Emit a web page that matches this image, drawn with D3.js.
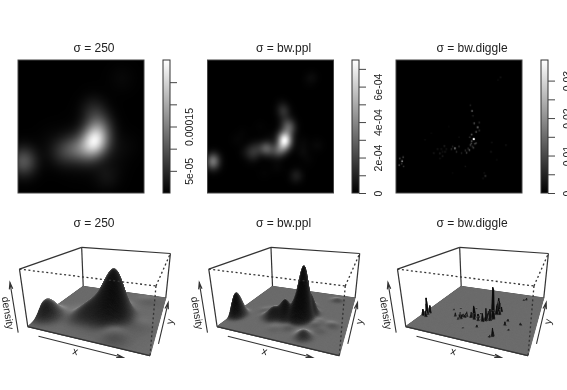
<!DOCTYPE html>
<meta charset="utf-8" />
<title>Kernel density, three bandwidths</title>
<style>
  html, body { margin: 0; background: #fff; }
  canvas, svg { position: absolute; left: 0; top: 0; }
  canvas { filter: blur(0.4px); }
  svg { filter: blur(0.25px); }
  text { font-family: "Liberation Sans", Arial, sans-serif; fill: #222; }
</style>
<body>
<canvas width="567" height="390"></canvas>
<svg width="567" height="390"></svg>
<script src="https://d3js.org/d3.v7.min.js"></script>
<script>
const width = 567, height = 390;

// panel titles and kernel bandwidths, window units
const titles = ["σ = 250", "σ = bw.ppl", "σ = bw.diggle"];
const sigmas = [0.072, 0.036, 0.0045];

// top of the density surface and colour ribbon range
const peakValues = [2.9e-4, 7.4e-4, 0.035];
const ribbonMax = [3.0e-4, 7.5e-4, 0.0355];
const boxTop = [3.15e-4, 7.6e-4, 0.06];

// ribbon ticks, labels only where the reference has them
const ribbonTicks = [
  [5e-5, 1e-4, 1.5e-4, 2e-4, 2.5e-4],
  [0, 1e-4, 2e-4, 3e-4, 4e-4, 5e-4, 6e-4, 7e-4],
  [0, 0.005, 0.01, 0.015, 0.02, 0.025, 0.03]
];
const ribbonLabels = [
  ["5e-05", "", "0.00015", "", ""],
  ["0", "", "2e-04", "", "4e-04", "", "6e-04", ""],
  ["0", "", "0.01", "", "0.02", "", "0.03"]
];

// events: u, v, weight
const events = [
  [.617,.406,9],[.60,.39,2],[.625,.37,1.5],[.59,.36,1.5],[.597,.372,1.5],[.614,.34,1.5],[.606,.35,1],
  [.582,.323,2],[.572,.335,1],[.56,.303,1.5],[.55,.32,1],[.635,.375,1.5],[.60,.44,2],[.585,.42,1],
  [.648,.494,3],[.62,.524,2],[.66,.53,1],[.635,.46,2],[.66,.47,1],
  [.603,.617,2.5],[.59,.66,.7],[.61,.58,.7],
  [.468,.336,3.5],[.44,.33,1],[.45,.35,.7],[.50,.35,1],[.48,.31,1],[.52,.30,.7],
  [.384,.353,.8],[.349,.298,.8],[.37,.278,.7],[.36,.33,.5],[.33,.33,.6],[.30,.30,.6],
  [.39,.31,.6],[.35,.26,.4],[.40,.33,.5],[.37,.31,.4],
  [.048,.24,3.5],[.056,.27,1.5],[.03,.26,1.5],[.06,.20,1],[.025,.21,1.5],[.045,.22,1],
  [.709,.128,1.3],[.69,.11,.4],[.70,.15,.4],
  [.873,.36,.5],[.754,.31,.6],[.80,.25,.3],[.76,.38,.4],
  [.83,.87,.5],[.81,.85,.3],
  [.23,.4,.3],[.28,.45,.2],[.45,.15,.2],[.55,.2,.4],[.42,.5,.2],[.5,.42,.3]
];

const imageLeft = [18, 207.5, 396];
const ribbonLeft = [163, 352, 541];
const perspShift = [0, 189.3, 378];
const gridSize = 128;

// camera, fitted to the box corners of the first surface
const view = { theta: 0.3656, phi: 0.3487, dist: 3.763, zs: 0.4745 };

const ctx = d3.select("canvas").node().getContext("2d");
const svg = d3.select("svg");

// kernel estimate on the grid, scaled so the top matches the panel
function density(sigma, peak) {
  const grid = new Float64Array(gridSize * gridSize);
  let top = 0;
  for (let j = 0; j < gridSize; j++) {
    for (let i = 0; i < gridSize; i++) {
      const u = (i + 0.5) / gridSize, v = (j + 0.5) / gridSize;
      let s = 0;
      events.forEach(e => {
        const d2 = (u - e[0]) ** 2 + (v - e[1]) ** 2;
        s += e[2] * Math.exp(-d2 / (2 * sigma * sigma));
      });
      grid[j * gridSize + i] = s;
      top = Math.max(top, s);
    }
  }
  return grid.map(d => d / top * peak);
}

function project(u, v, w) {
  const ct = Math.cos(view.theta), st = Math.sin(view.theta);
  const cf = Math.cos(view.phi), sf = Math.sin(view.phi);
  const x = 2 * u - 1, y = 2 * v - 1, z = (2 * w - 1) * view.zs;
  const xr = x * ct + y * st, dv = x * st - y * ct;
  const yv = z * cf - dv * sf, zv = z * sf + dv * cf;
  const k = 1 / (view.dist - zv);
  return [xr * k, yv * k];
}

// light comes from behind and above the box
const light = [-Math.sin(view.theta) * 0.75, Math.cos(view.theta) * 0.75, 0.3];

titles.forEach((title, k) => {
  const grid = density(sigmas[k], peakValues[k]);

  // image panel
  const ix = d3.scaleLinear().domain([0, 1]).range([imageLeft[k], imageLeft[k] + 126]);
  const iy = d3.scaleLinear().domain([0, 1]).range([193, 60]);
  const grey = d3.scaleLinear().domain([0, ribbonMax[k]]).range([0, 255]).clamp(true);
  const off = document.createElement("canvas");
  off.width = off.height = gridSize;
  const octx = off.getContext("2d");
  const img = octx.createImageData(gridSize, gridSize);
  for (let j = 0; j < gridSize; j++) {
    for (let i = 0; i < gridSize; i++) {
      const g = grey(grid[j * gridSize + i]);
      const o = ((gridSize - 1 - j) * gridSize + i) * 4;
      img.data[o] = img.data[o + 1] = img.data[o + 2] = g;
      img.data[o + 3] = 255;
    }
  }
  octx.putImageData(img, 0, 0);
  ctx.drawImage(off, ix(0), iy(1), 126, 133);
  svg.append("rect").attr("x", ix(0)).attr("y", iy(1)).attr("width", 126).attr("height", 133)
    .attr("fill", "none").attr("stroke", "#444");

  // ribbon
  const rs = d3.scaleLinear().domain([0, ribbonMax[k]]).range([193, 60]);
  const gradId = "rib" + k;
  const grad = svg.append("linearGradient").attr("id", gradId)
    .attr("x1", 0).attr("x2", 0).attr("y1", 1).attr("y2", 0);
  grad.append("stop").attr("offset", 0).attr("stop-color", "#000");
  grad.append("stop").attr("offset", 1).attr("stop-color", "#fff");
  svg.append("rect").attr("x", ribbonLeft[k]).attr("y", 60).attr("width", 7).attr("height", 133)
    .attr("fill", `url(#${gradId})`).attr("stroke", "#333");
  const axis = d3.axisRight(rs).tickValues(ribbonTicks[k]).tickSizeOuter(0).tickSize(7)
    .tickFormat((d, i) => ribbonLabels[k][i]);
  const ag = svg.append("g").attr("transform", `translate(${ribbonLeft[k] + 7},0)`).call(axis);
  ag.select(".domain").remove();
  ag.selectAll("line").attr("stroke", "#444");
  ag.selectAll("text").attr("font-size", 10.5).attr("fill", "#222").attr("font-family", "Liberation Sans")
    .attr("x", 0).attr("dy", 0).attr("text-anchor", "middle")
    .attr("transform", "translate(19,0) rotate(-90) translate(0,4)");

  svg.append("text").attr("x", ix(0) + 76).attr("y", 51.5).attr("text-anchor", "middle")
    .attr("font-size", 12).text(title);
  svg.append("text").attr("x", ix(0) + 76).attr("y", 226.5).attr("text-anchor", "middle")
    .attr("font-size", 12).text(title);

  // perspective panel
  const sx = d3.scaleLinear().domain([0, 1]).range([106.29 + perspShift[k], 311.96 + perspShift[k]]);
  const sy = d3.scaleLinear().domain([0, 1]).range([286.37, 74.49]);
  const pt = (u, v, w) => { const q = project(u, v, w); return [sx(q[0]), sy(q[1])]; };
  const line = d3.line().context(ctx);
  function edge(a, b, dash, w) {
    ctx.beginPath();
    line([pt(...a), pt(...b)]);
    ctx.setLineDash(dash);
    ctx.strokeStyle = "#333";
    ctx.lineWidth = w || 1.2;
    ctx.stroke();
    ctx.setLineDash([]);
  }
  // back of the box goes under the surface
  edge([0,0,1],[0,1,1],[]); edge([0,1,1],[1,1,1],[]);
  edge([0,1,0],[0,1,1],[]); edge([0,0,0],[0,0,1],[]); edge([1,1,0],[1,1,1],[]);
  edge([0,0,0],[0,1,0],[]); edge([0,1,0],[1,1,0],[]);
  edge([0,0,0],[1,0,0],[]);

  // surface, far cells first
  const n = gridSize;
  const at = (i, j) => grid[j * n + i] / boxTop[k];
  const flatShade = 1 + light[2];
  for (let j = n - 2; j >= 0; j--) {
    for (let i = 0; i < n - 1; i++) {
      const a = at(i, j), b = at(i + 1, j), c = at(i + 1, j + 1), d = at(i, j + 1);
      const h = 2 / (n - 1);
      const dzdx = ((b + c - a - d) * view.zs) / h;
      const dzdy = ((c + d - a - b) * view.zs) / h;
      const len = Math.hypot(dzdx, dzdy, 1);
      const dot = (-dzdx * light[0] - dzdy * light[1] + light[2]) / len;
      const s = Math.pow(Math.max(0.02, 1 + dot) / flatShade, 1.7);
      const g = Math.min(200, 108 * s);
      const u0 = i / (n - 1), u1 = (i + 1) / (n - 1), v0 = j / (n - 1), v1 = (j + 1) / (n - 1);
      const col = `rgb(${g},${g},${g})`;
      ctx.beginPath();
      line([pt(u0, v0, a), pt(u1, v0, b), pt(u1, v1, c), pt(u0, v1, d)]);
      ctx.closePath();
      ctx.fillStyle = col; ctx.strokeStyle = col; ctx.lineWidth = 0.8;
      ctx.fill(); ctx.stroke();
    }
  }

  // front of the box on top
  edge([0,0,1],[1,0,1],[2,2.5],1.3); edge([1,0,1],[1,1,1],[2,2.5],1.3); edge([1,0,1],[1,0,0],[2,2.5],1.3);
  edge([0,0,0],[1,0,0],[]);

  // axis arrows
  function arrow(a, b) {
    const p0 = pt(...a), p1 = pt(...b);
    const ang = Math.atan2(p1[1] - p0[1], p1[0] - p0[0]);
    ctx.beginPath();
    line([p0, p1]);
    line([[p1[0] - 7 * Math.cos(ang - 0.25), p1[1] - 7 * Math.sin(ang - 0.25)], p1,
          [p1[0] - 7 * Math.cos(ang + 0.25), p1[1] - 7 * Math.sin(ang + 0.25)]]);
    ctx.strokeStyle = "#333"; ctx.lineWidth = 1.1;
    ctx.stroke();
    return ang * 180 / Math.PI;
  }
  const xa = arrow([0.17,-0.08,0],[0.84,-0.08,0]);
  const ya = arrow([1.035,0.15,0],[1.035,0.9,0]);
  const za = arrow([-0.01,-0.097,0],[-0.01,-0.097,0.85]);
  function axisLabel(text, p, ang) {
    const q = pt(...p);
    svg.append("text").attr("transform", `translate(${q[0]},${q[1]}) rotate(${ang})`)
      .attr("text-anchor", "middle").attr("dy", 3).attr("font-size", 10.5).text(text);
  }
  axisLabel("x", [0.52,-0.14,0], xa);
  axisLabel("y", [1.09,0.5,0], ya);
  axisLabel("density", [-0.022,-0.154,0.4], za + 180);
});
</script>
</body>
